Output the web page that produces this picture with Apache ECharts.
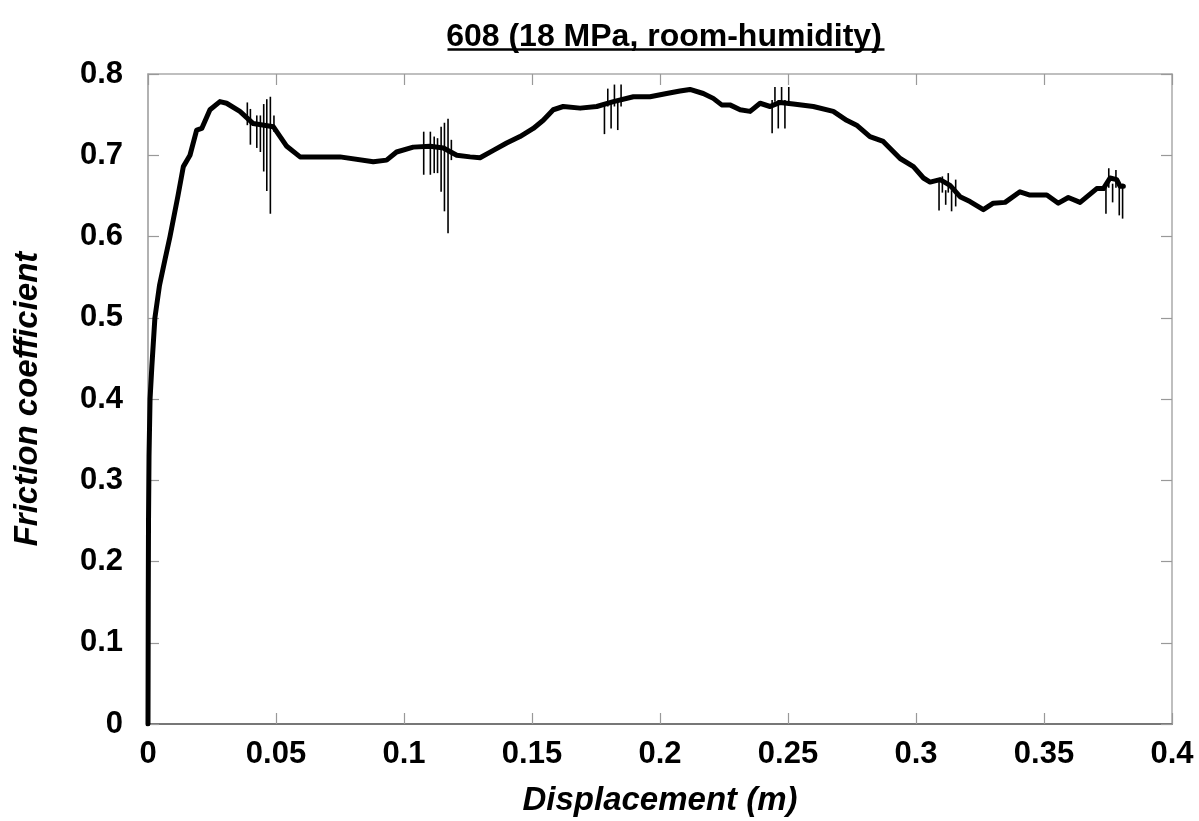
<!DOCTYPE html>
<html>
<head>
<meta charset="utf-8">
<script src="https://cdn.jsdelivr.net/npm/echarts@6/dist/echarts.min.js"></script>
<style>
html,body{margin:0;padding:0;background:#fff;}
#chart{width:1199px;height:821px;}
</style>
</head>
<body>
<div id="chart"></div>
<script>
// ---- data ----
const titleText = '608 (18 MPa, room-humidity)';
const xAxisName = 'Displacement (m)';
const yAxisName = 'Friction coefficient';

const displacement = [0, 0.0001, 0.0002, 0.0004, 0.0008, 0.0015, 0.0027, 0.0045, 0.0066, 0.0086,
  0.0117, 0.0138, 0.0164, 0.019, 0.021, 0.0242, 0.0281, 0.0307, 0.0359, 0.0411,
  0.049, 0.0542, 0.0594, 0.075, 0.088, 0.0932, 0.0971, 0.1036, 0.1102, 0.1154,
  0.1206, 0.1258, 0.1297, 0.1349, 0.1401, 0.1453, 0.1505, 0.1544, 0.1583, 0.1622,
  0.1688, 0.1753, 0.1818, 0.1896, 0.1961, 0.2026, 0.2078, 0.2117, 0.2169, 0.2208,
  0.2241, 0.2273, 0.2313, 0.2352, 0.2391, 0.243, 0.2469, 0.2521, 0.2599, 0.2677,
  0.2729, 0.2768, 0.282, 0.2872, 0.2938, 0.2990, 0.3029, 0.3055, 0.3094, 0.3133,
  0.3172, 0.3211, 0.3263, 0.3302, 0.3348, 0.3406, 0.3445, 0.3511, 0.3556, 0.3595,
  0.3641, 0.3706, 0.3732, 0.3758, 0.3784, 0.3797, 0.381];
const friction = [0, 0.15, 0.25, 0.33, 0.40, 0.44, 0.50, 0.54, 0.571, 0.60,
  0.65, 0.686, 0.70, 0.731, 0.733, 0.756, 0.766, 0.764, 0.754, 0.739,
  0.735, 0.711, 0.698, 0.698, 0.692, 0.694, 0.704, 0.710, 0.711, 0.709,
  0.700, 0.698, 0.697, 0.706, 0.715, 0.723, 0.733, 0.743, 0.756, 0.760,
  0.758, 0.760, 0.766, 0.772, 0.772, 0.776, 0.779, 0.781, 0.776, 0.770,
  0.762, 0.762, 0.756, 0.754, 0.764, 0.760, 0.765, 0.763, 0.760, 0.754,
  0.743, 0.737, 0.723, 0.717, 0.696, 0.686, 0.672, 0.667, 0.670, 0.663,
  0.649, 0.643, 0.633, 0.641, 0.642, 0.655, 0.651, 0.651, 0.641, 0.648,
  0.642, 0.659, 0.659, 0.672, 0.670, 0.662, 0.662];

// stick-slip spikes: position, low and high friction value
const spikeX = [0.0388, 0.0400, 0.0425, 0.0439, 0.0452, 0.0464, 0.0478, 0.0492,
  0.1077, 0.1103, 0.1118, 0.1131, 0.1145, 0.1158, 0.1172, 0.1185,
  0.1783, 0.1796, 0.1809, 0.1822, 0.1835, 0.1848,
  0.2438, 0.2449, 0.2462, 0.2475, 0.2488, 0.2503,
  0.3090, 0.3103, 0.3116, 0.3126, 0.3139, 0.3155,
  0.3742, 0.3753, 0.3768, 0.3781, 0.3794, 0.3807];
const spikeLow = [0.737, 0.713, 0.709, 0.704, 0.680, 0.656, 0.628, 0.729,
  0.676, 0.676, 0.678, 0.678, 0.655, 0.631, 0.604, 0.694,
  0.726, 0.760, 0.733, 0.760, 0.731, 0.760,
  0.727, 0.766, 0.733, 0.766, 0.733, 0.766,
  0.632, 0.654, 0.639, 0.654, 0.631, 0.637,
  0.628, 0.660, 0.642, 0.660, 0.626, 0.622];
const spikeHigh = [0.765, 0.757, 0.749, 0.749, 0.763, 0.769, 0.772, 0.749,
  0.729, 0.729, 0.723, 0.721, 0.735, 0.740, 0.745, 0.719,
  0.764, 0.782, 0.768, 0.787, 0.766, 0.787,
  0.768, 0.784, 0.768, 0.784, 0.768, 0.784,
  0.667, 0.674, 0.657, 0.678, 0.657, 0.670,
  0.663, 0.684, 0.665, 0.682, 0.665, 0.665];

const xMin = 0, xMax = 0.4, xStep = 0.05;
const yMin = 0, yMax = 0.8, yStep = 0.1;

// ---- build ----
const curve = displacement.map((x, i) => [x, friction[i]]);
const spikes = spikeX.map((x, i) => [x, spikeLow[i], spikeHigh[i]]);

const FONT = '"Liberation Sans", Arial, sans-serif';
const labelStyle = {color: '#000', fontFamily: FONT, fontWeight: 'bold', fontSize: 31};
const nameStyle = {color: '#000', fontFamily: FONT, fontWeight: 'bold', fontStyle: 'italic', fontSize: 33};

const chart = echarts.init(document.getElementById('chart'), null, {renderer: 'canvas'});
chart.setOption({
  backgroundColor: '#fff',
  animation: false,
  title: {
    text: titleText,
    left: 659, top: 16, textAlign: 'center',
    textStyle: {color: '#000', fontFamily: FONT, fontWeight: 'bold', fontSize: 32}
  },
  graphic: [{
    type: 'line', left: 445, top: 47,
    shape: {x1: 0, y1: 0, x2: 437, y2: 0},
    style: {stroke: '#000', lineWidth: 2.5}
  }],
  grid: {left: 148, right: 27, top: 74, bottom: 97, containLabel: false, outerBoundsMode: 'none'},
  xAxis: [{
    type: 'value', min: xMin, max: xMax, interval: xStep,
    name: xAxisName, nameLocation: 'middle', nameGap: 60, nameTextStyle: nameStyle,
    axisLine: {show: true, onZero: false, lineStyle: {color: '#777', width: 2}},
    axisTick: {show: true, inside: true, length: 11, lineStyle: {color: '#999', width: 1.2}},
    axisLabel: Object.assign({margin: 15, formatter: v => String(+v.toFixed(2))}, labelStyle),
    splitLine: {show: false}
  }, {
    type: 'value', position: 'top', min: xMin, max: xMax, interval: xStep,
    axisLine: {show: true, onZero: false, lineStyle: {color: '#aaa', width: 1.5}},
    axisTick: {show: true, inside: true, length: 11, lineStyle: {color: '#999', width: 1.2}},
    axisLabel: {show: false}, splitLine: {show: false}
  }],
  yAxis: [{
    type: 'value', min: yMin, max: yMax, interval: yStep,
    name: yAxisName, nameLocation: 'middle', nameGap: 104, nameTextStyle: nameStyle,
    axisLine: {show: true, onZero: false, lineStyle: {color: '#999', width: 1.5}},
    axisTick: {show: true, inside: true, length: 11, lineStyle: {color: '#999', width: 1.2}},
    axisLabel: Object.assign({margin: 25, formatter: v => String(+v.toFixed(1))}, labelStyle),
    splitLine: {show: false}
  }, {
    type: 'value', position: 'right', min: yMin, max: yMax, interval: yStep,
    axisLine: {show: true, onZero: false, lineStyle: {color: '#aaa', width: 1.5}},
    axisTick: {show: true, inside: true, length: 11, lineStyle: {color: '#999', width: 1.2}},
    axisLabel: {show: false}, splitLine: {show: false}
  }],
  series: [{
    type: 'custom',
    xAxisIndex: 0, yAxisIndex: 0,
    data: spikes,
    encode: {x: 0, y: [1, 2]},
    renderItem: function (params, api) {
      const p1 = api.coord([api.value(0), api.value(1)]);
      const p2 = api.coord([api.value(0), api.value(2)]);
      return {
        type: 'line',
        shape: {x1: p1[0], y1: p1[1], x2: p2[0], y2: p2[1]},
        style: {stroke: '#000', lineWidth: 1.6}
      };
    },
    z: 3
  }, {
    type: 'line',
    xAxisIndex: 0, yAxisIndex: 0,
    data: curve,
    showSymbol: false,
    smooth: false,
    lineStyle: {color: '#000', width: 5, join: 'round', cap: 'round'},
    z: 4
  }]
});
</script>
</body>
</html>
